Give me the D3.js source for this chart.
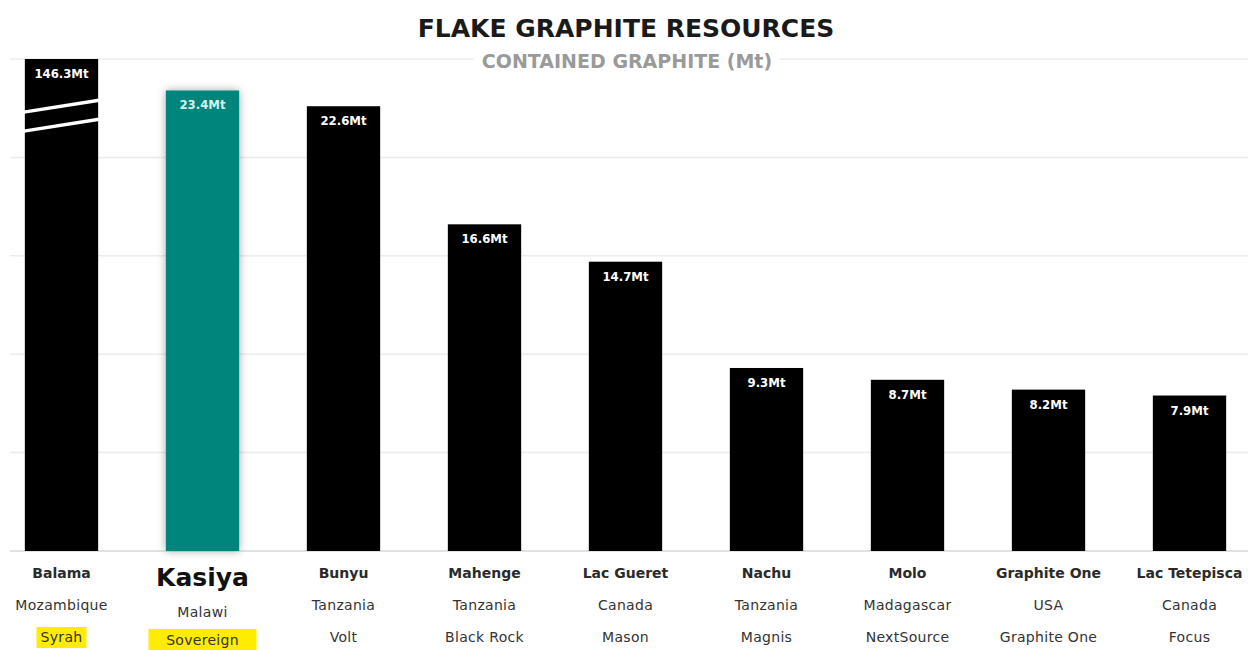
<!DOCTYPE html>
<html>
<head>
<meta charset="utf-8">
<script src="https://cdn.jsdelivr.net/npm/d3@7"></script>
<style>
  body { margin: 0; background: #fff; }
  svg { display: block; }
</style>
</head>
<body>
<div id="chart"></div>
<script>
// data
const projects  = ["Balama", "Kasiya", "Bunyu", "Mahenge", "Lac Gueret", "Nachu", "Molo", "Graphite One", "Lac Tetepisca"];
const countries = ["Mozambique", "Malawi", "Tanzania", "Tanzania", "Canada", "Tanzania", "Madagascar", "USA", "Canada"];
const companies = ["Syrah", "Sovereign", "Volt", "Black Rock", "Mason", "Magnis", "NextSource", "Graphite One", "Focus"];
const contained = [146.3, 23.4, 22.6, 16.6, 14.7, 9.3, 8.7, 8.2, 7.9];
const highlighted = ["Syrah", "Sovereign"];
const yTicks = [0, 5, 10, 15, 20, 25];

const W = 1253, H = 650;
const font = "'DejaVu Sans', sans-serif";
const cond = "'DejaVu Sans Condensed', 'DejaVu Sans', sans-serif";

const data = projects.map((p, i) => ({project: p, country: countries[i], company: companies[i], value: contained[i]}));

const svg = d3.select("#chart").append("svg")
    .attr("width", W)
    .attr("height", H);

const defs = svg.append("defs");
const shadow = defs.append("filter").attr("id", "shadow")
    .attr("x", "-30%").attr("y", "-10%").attr("width", "160%").attr("height", "120%");
shadow.append("feDropShadow")
    .attr("dx", 0).attr("dy", 0).attr("stdDeviation", 4)
    .attr("flood-color", "#000").attr("flood-opacity", 0.35);

const x = d3.scaleBand()
    .domain(projects)
    .range([-9, 1260])
    .paddingInner(0.48)
    .paddingOuter(0.24);

const y = d3.scaleLinear()
    .domain([0, 25])
    .range([551, 59])
    .clamp(true);

// gridlines
svg.append("g")
  .selectAll("line")
  .data(yTicks)
  .join("line")
    .attr("x1", 10)
    .attr("x2", 1248)
    .attr("y1", d => y(d))
    .attr("y2", d => y(d))
    .attr("stroke", d => d === 0 ? "#d8d8d8" : "#ececec")
    .attr("stroke-width", 1.5);

// titles
svg.append("text")
    .attr("x", 626).attr("y", 37)
    .attr("text-anchor", "middle")
    .style("font-family", font)
    .style("font-weight", "bold")
    .style("font-size", "25px")
    .attr("fill", "#1a1a1a")
    .text("FLAKE GRAPHITE RESOURCES");

const sub = svg.append("text")
    .attr("x", 627).attr("y", 68)
    .attr("text-anchor", "middle")
    .style("font-family", font)
    .style("font-weight", "bold")
    .style("font-size", "19px")
    .attr("fill", "#9a9a9a")
    .text("CONTAINED GRAPHITE (Mt)");
const sb = sub.node().getBBox();
svg.insert("rect", "text")
    .attr("x", sb.x - 8).attr("y", y(25) - 4)
    .attr("width", sb.width + 16).attr("height", 8)
    .attr("fill", "#fff");

// bars
svg.append("g")
  .selectAll("rect")
  .data(data)
  .join("rect")
    .attr("x", d => x(d.project))
    .attr("y", d => y(d.value))
    .attr("width", x.bandwidth())
    .attr("height", d => y(0) - y(d.value))
    .attr("fill", d => d.project === "Kasiya" ? "#00857b" : "#000")
    .attr("filter", d => d.project === "Kasiya" ? "url(#shadow)" : null);

// axis break on the bar that runs off the scale
const broken = data.filter(d => d.value > y.domain()[1]);
[0, 19].forEach(off => {
  svg.append("g")
    .selectAll("line")
    .data(broken)
    .join("line")
      .attr("x1", d => x(d.project) - 1)
      .attr("x2", d => x(d.project) + x.bandwidth() + 1)
      .attr("y1", y(22.3) + off)
      .attr("y2", y(22.9) + off)
      .attr("stroke", "#fff")
      .attr("stroke-width", 3.5);
});

// value labels
svg.append("g")
  .selectAll("text")
  .data(data)
  .join("text")
    .attr("x", d => x(d.project) + x.bandwidth() / 2)
    .attr("y", d => y(d.value) + 19)
    .attr("text-anchor", "middle")
    .style("font-family", cond)
    .style("font-weight", "bold")
    .style("font-size", "13px")
    .attr("fill", d => d.project === "Kasiya" ? "#d8efec" : "#fff")
    .text(d => d.value + "Mt");

// category labels
const lab = svg.append("g")
  .selectAll("g")
  .data(data)
  .join("g")
    .attr("transform", d => `translate(${x(d.project) + x.bandwidth() / 2},0)`);

lab.filter(d => highlighted.includes(d.company))
  .append("rect")
    .attr("x", d => d.project === "Kasiya" ? -54 : -25)
    .attr("y", d => d.project === "Kasiya" ? 629 : 627)
    .attr("width", d => d.project === "Kasiya" ? 108 : 50)
    .attr("height", d => d.project === "Kasiya" ? 24 : 21)
    .attr("fill", "#ffec00");

lab.append("text")
    .attr("y", d => d.project === "Kasiya" ? 586 : 578)
    .attr("text-anchor", "middle")
    .style("font-family", font)
    .style("font-weight", "bold")
    .style("font-size", d => d.project === "Kasiya" ? "25px" : "14px")
    .attr("fill", d => d.project === "Kasiya" ? "#111" : "#2a2a2a")
    .text(d => d.project);

lab.append("text")
    .attr("y", d => d.project === "Kasiya" ? 617 : 610)
    .attr("text-anchor", "middle")
    .style("font-family", font)
    .style("font-size", "14px")
    .style("letter-spacing", "0.3px")
    .attr("fill", "#333")
    .text(d => d.country);

lab.append("text")
    .attr("y", d => d.project === "Kasiya" ? 645 : 642)
    .attr("text-anchor", "middle")
    .style("font-family", font)
    .style("font-size", "14px")
    .style("letter-spacing", "0.3px")
    .attr("fill", "#333")
    .text(d => d.company);
</script>
</body>
</html>
